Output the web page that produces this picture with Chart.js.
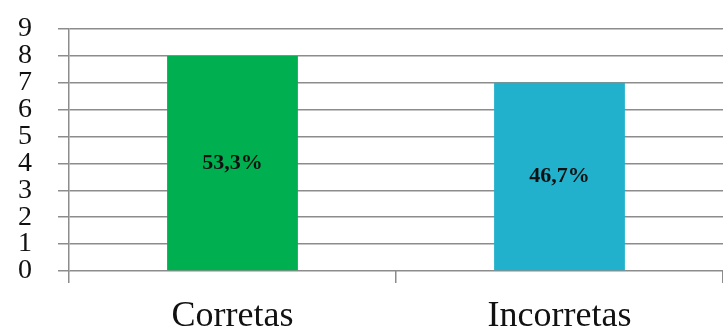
<!DOCTYPE html>
<html>
<head>
<meta charset="utf-8">
<script src="https://cdn.jsdelivr.net/npm/chart.js@4"></script>
<style>
  html, body { margin: 0; padding: 0; background: #fff; }
  #grafico { display: block; }
</style>
</head>
<body>
<canvas id="grafico" width="723" height="329"></canvas>
<script>
const categorias = ['Corretas', 'Incorretas'];
const quantidades = [8, 7];
const percentuais = ['53,3%', '46,7%'];
const coresBarras = ['#00B050', '#21B1CC'];

// escreve o percentual no meio de cada barra
const rotulosBarras = {
    id: 'rotulosBarras',
    afterDatasetsDraw(chart) {
        const ctx = chart.ctx;
        const meta = chart.getDatasetMeta(0);
        ctx.save();
        ctx.font = 'bold 22px "Liberation Serif", serif';
        ctx.fillStyle = '#111';
        ctx.textAlign = 'center';
        ctx.textBaseline = 'middle';
        meta.data.forEach(function (barra, i) {
            const meio = (barra.y + barra.base) / 2;
            ctx.fillText(percentuais[i], barra.x, meio);
        });
        ctx.restore();
    }
};

const ctx = document.getElementById('grafico');
const grafico = new Chart(ctx, {
    type: 'bar',
    data: {
        labels: categorias,
        datasets: [{
            data: quantidades,
            backgroundColor: coresBarras,
            borderWidth: 0,
            barPercentage: 0.4,
            categoryPercentage: 1
        }]
    },
    options: {
        responsive: false,
        animation: false,
        layout: { padding: { top: 29, right: 0, left: 0, bottom: 0 } },
        plugins: {
            legend: { display: false },
            tooltip: { enabled: false }
        },
        scales: {
            x: {
                grid: {
                    drawOnChartArea: false,
                    color: '#8c8c8c',
                    lineWidth: 1.5,
                    tickLength: 12
                },
                border: { display: false },
                ticks: {
                    color: '#111',
                    padding: 12,
                    font: { family: '"Liberation Serif", serif', size: 36 }
                },
                afterFit(escala) {
                    escala.height = 58;
                    escala.paddingLeft = 0;
                    escala.paddingRight = 0;
                }
            },
            y: {
                min: 0,
                max: 9,
                grid: {
                    color: '#8c8c8c',
                    lineWidth: 1.5,
                    tickLength: 11
                },
                border: { color: '#8c8c8c', width: 1.5 },
                ticks: {
                    stepSize: 1,
                    autoSkip: false,
                    color: '#111',
                    padding: 26,
                    font: { family: '"Liberation Serif", serif', size: 28 }
                },
                afterFit(escala) {
                    escala.width = 69;
                    escala.paddingTop = 0;
                    escala.paddingBottom = 0;
                }
            }
        }
    },
    plugins: [rotulosBarras]
});
</script>
</body>
</html>
